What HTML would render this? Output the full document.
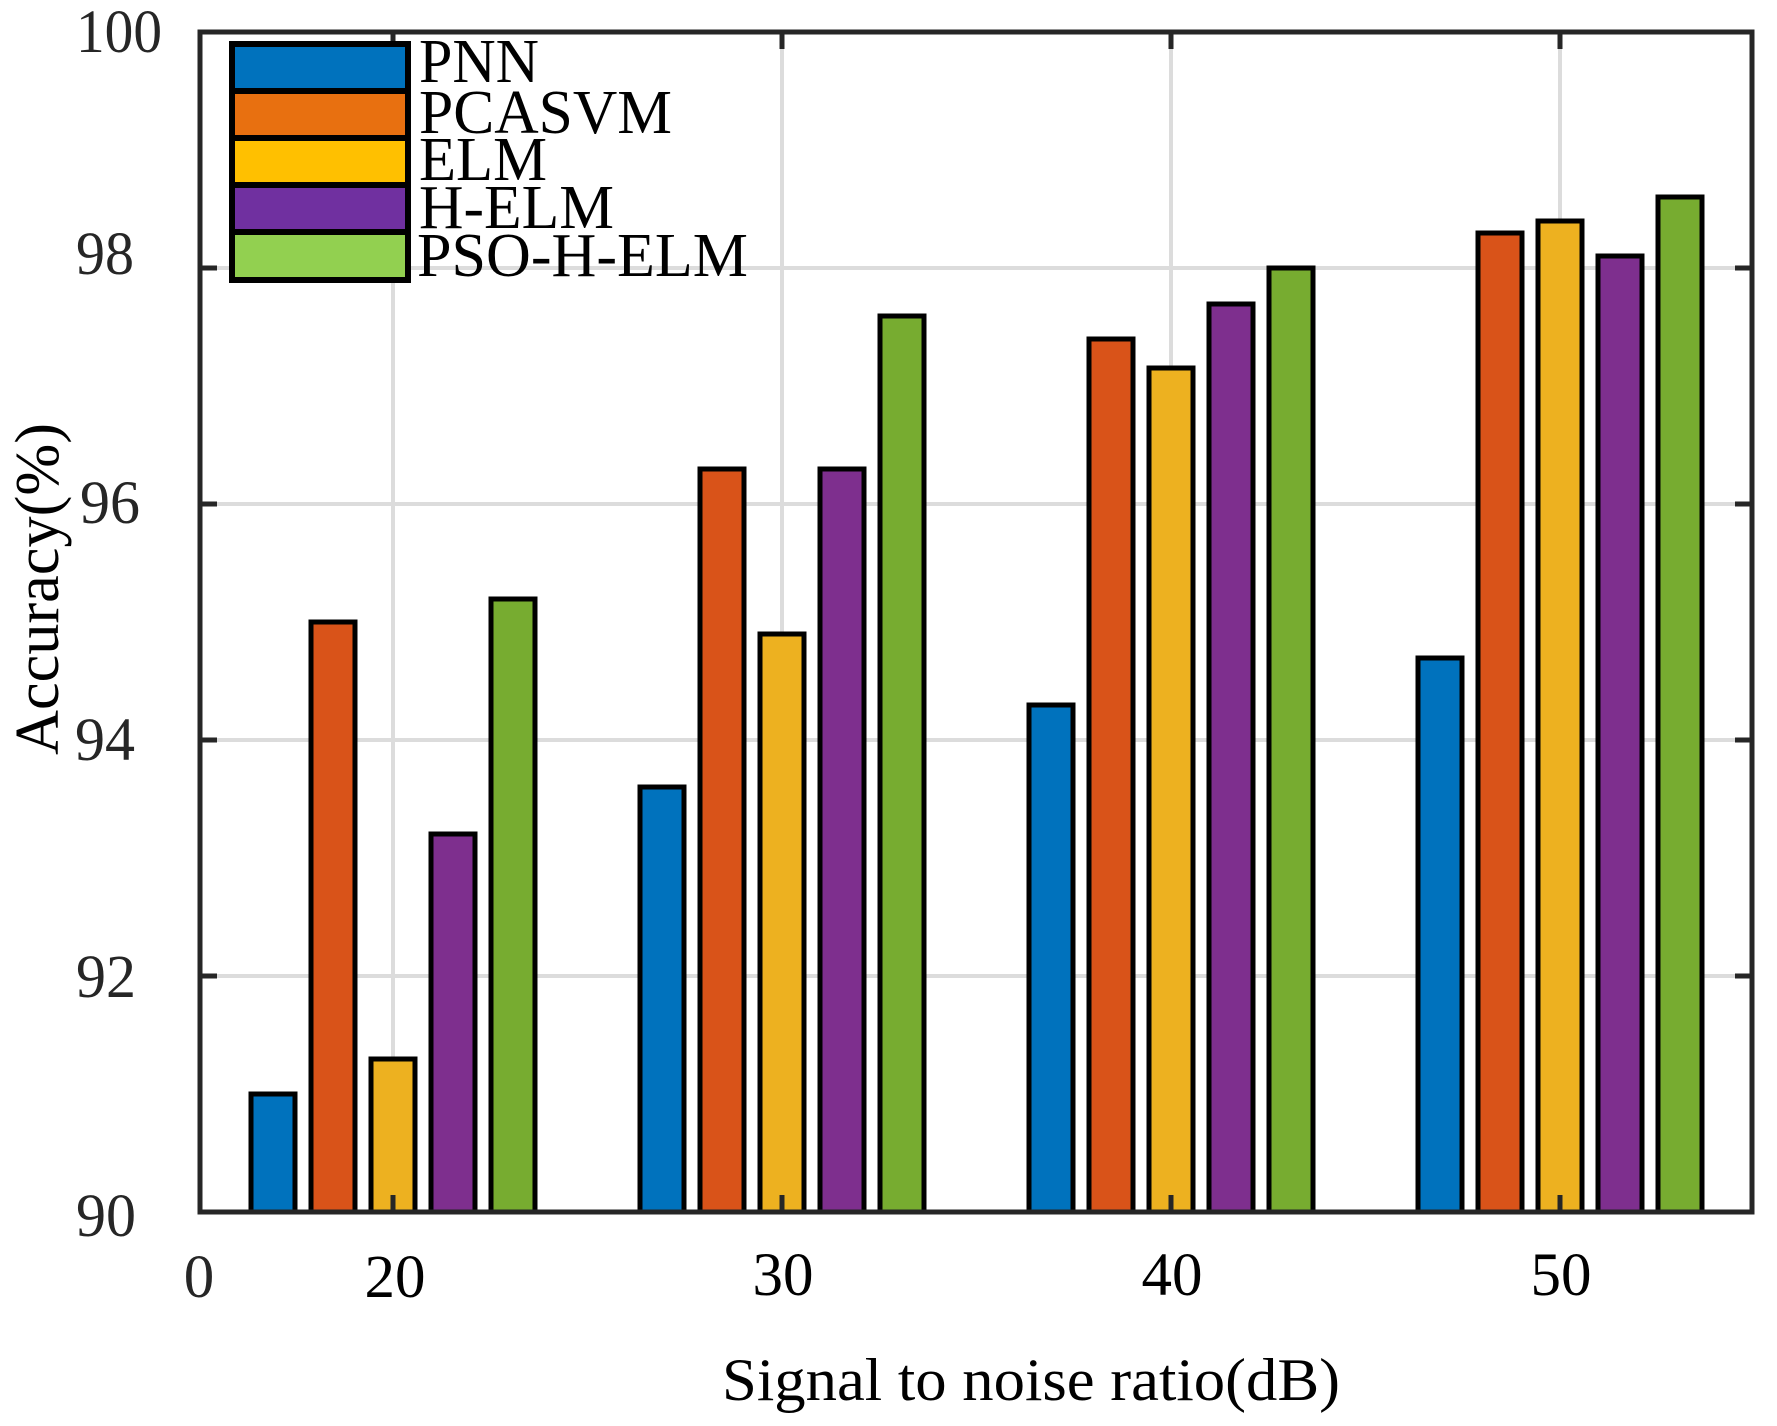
<!DOCTYPE html>
<html><head><meta charset="utf-8"><style>html,body{margin:0;padding:0;background:#fff}svg{display:block}</style></head>
<body>
<svg width="1777" height="1426" viewBox="0 0 1777 1426" xmlns="http://www.w3.org/2000/svg" font-family="'Liberation Serif', serif">
<rect width="1777" height="1426" fill="#fff"/>
<!-- grid -->
<g stroke="#dcdcdc" stroke-width="4">
<line x1="393" y1="32" x2="393" y2="1212"/>
<line x1="782" y1="32" x2="782" y2="1212"/>
<line x1="1171" y1="32" x2="1171" y2="1212"/>
<line x1="1560" y1="32" x2="1560" y2="1212"/>
<line x1="200" y1="976" x2="1752" y2="976"/>
<line x1="200" y1="740" x2="1752" y2="740"/>
<line x1="200" y1="504" x2="1752" y2="504"/>
<line x1="200" y1="268" x2="1752" y2="268"/>
</g>
<!-- bars -->
<g stroke="#000" stroke-width="5">
<g fill="#0072BD">
<rect x="251" y="1094" width="44" height="118"/>
<rect x="640" y="787" width="44" height="425"/>
<rect x="1029" y="705" width="44" height="507"/>
<rect x="1418" y="658" width="44" height="554"/>
</g>
<g fill="#D95319">
<rect x="311" y="622" width="44" height="590"/>
<rect x="700" y="469" width="44" height="743"/>
<rect x="1089" y="339" width="44" height="873"/>
<rect x="1478" y="233" width="44" height="979"/>
</g>
<g fill="#EDB120">
<rect x="371" y="1059" width="44" height="153"/>
<rect x="760" y="634" width="44" height="578"/>
<rect x="1149" y="368" width="44" height="844"/>
<rect x="1538" y="221" width="44" height="991"/>
</g>
<g fill="#7E2F8E">
<rect x="431" y="834" width="44" height="378"/>
<rect x="820" y="469" width="44" height="743"/>
<rect x="1209" y="304" width="44" height="908"/>
<rect x="1598" y="256" width="44" height="956"/>
</g>
<g fill="#77AC30">
<rect x="491" y="599" width="44" height="613"/>
<rect x="880" y="316" width="44" height="896"/>
<rect x="1269" y="268" width="44" height="944"/>
<rect x="1658" y="197" width="44" height="1015"/>
</g>
</g>
<!-- axes -->
<rect x="200" y="32" width="1552" height="1180" fill="none" stroke="#262626" stroke-width="5"/>
<g stroke="#262626" stroke-width="5">
<line x1="393" y1="1212" x2="393" y2="1195"/><line x1="393" y1="32" x2="393" y2="49"/>
<line x1="782" y1="1212" x2="782" y2="1195"/><line x1="782" y1="32" x2="782" y2="49"/>
<line x1="1171" y1="1212" x2="1171" y2="1195"/><line x1="1171" y1="32" x2="1171" y2="49"/>
<line x1="1560" y1="1212" x2="1560" y2="1195"/><line x1="1560" y1="32" x2="1560" y2="49"/>
<line x1="200" y1="976" x2="217" y2="976"/><line x1="1752" y1="976" x2="1735" y2="976"/>
<line x1="200" y1="740" x2="217" y2="740"/><line x1="1752" y1="740" x2="1735" y2="740"/>
<line x1="200" y1="504" x2="217" y2="504"/><line x1="1752" y1="504" x2="1735" y2="504"/>
<line x1="200" y1="268" x2="217" y2="268"/><line x1="1752" y1="268" x2="1735" y2="268"/>
</g>
<!-- y tick labels -->
<g font-size="61" fill="#262626">
<text x="76" y="52" textLength="86" lengthAdjust="spacingAndGlyphs">100</text>
<text x="76" y="274" textLength="58" lengthAdjust="spacingAndGlyphs">98</text>
<text x="80" y="523" textLength="60" lengthAdjust="spacingAndGlyphs">96</text>
<text x="75" y="760" textLength="60" lengthAdjust="spacingAndGlyphs">94</text>
<text x="76" y="997" textLength="60" lengthAdjust="spacingAndGlyphs">92</text>
<text x="76" y="1236" textLength="60" lengthAdjust="spacingAndGlyphs">90</text>
</g>
<!-- x tick labels -->
<g font-size="61" fill="#000" text-anchor="middle">
<text x="199" y="1297" fill="#262626">0</text>
<text x="395" y="1297">20</text>
<text x="783" y="1295">30</text>
<text x="1172" y="1295">40</text>
<text x="1561" y="1295">50</text>
</g>
<text x="722" y="1400" font-size="60" textLength="618" lengthAdjust="spacingAndGlyphs">Signal to noise ratio(dB)</text>
<text transform="translate(58,755) rotate(-90)" font-size="62" textLength="332" lengthAdjust="spacingAndGlyphs">Accuracy(%)</text>
<!-- legend -->
<g stroke="#000" stroke-width="6">
<rect x="232" y="44" width="176" height="236" fill="#fff"/>
<rect x="232" y="44" width="176" height="47" fill="#0072BD"/>
<rect x="232" y="91" width="176" height="47" fill="#E87010"/>
<rect x="232" y="138" width="176" height="47" fill="#FFC000"/>
<rect x="232" y="185" width="176" height="47" fill="#7030A0"/>
<rect x="232" y="232" width="176" height="48" fill="#92D050"/>
</g>
<g font-size="62" fill="#000">
<text x="419" y="82" textLength="120" lengthAdjust="spacingAndGlyphs">PNN</text>
<text x="419" y="133" textLength="253" lengthAdjust="spacingAndGlyphs">PCASVM</text>
<text x="419" y="180" textLength="128" lengthAdjust="spacingAndGlyphs">ELM</text>
<text x="419" y="228" textLength="195" lengthAdjust="spacingAndGlyphs">H-ELM</text>
<text x="417" y="276" textLength="331" lengthAdjust="spacingAndGlyphs">PSO-H-ELM</text>
</g>
</svg>
</body></html>
